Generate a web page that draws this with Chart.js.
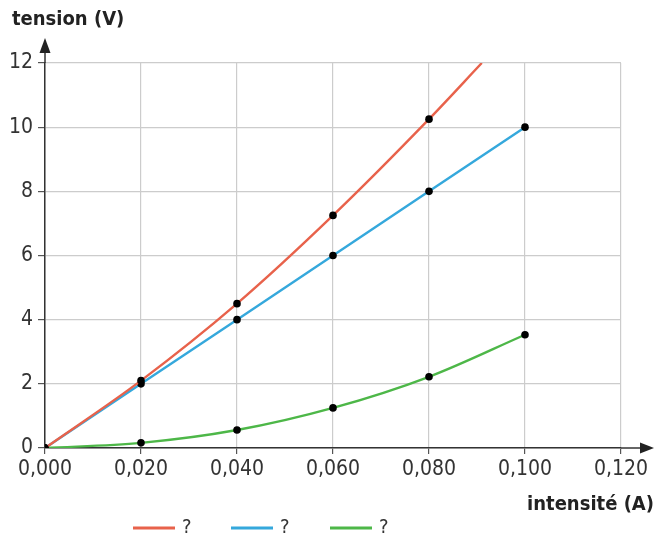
<!DOCTYPE html>
<html><head><meta charset="utf-8">
<script src="https://cdn.jsdelivr.net/npm/chart.js@4/dist/chart.umd.min.js"></script>
<style>html,body{margin:0;padding:0;background:#fff}#wrap{width:668px;height:542px}</style>
</head><body><div id="wrap"><canvas id="c" width="668" height="542"></canvas></div>
<script>
const intensity = [0, 0.02, 0.04, 0.06, 0.08, 0.1];
const redValues = [0, 2.1, 4.5, 7.25, 10.25];
const redEnd = [0.091, 12];
const blueValues = [0, 2, 4, 6, 8, 10];
const greenValues = [0, 0.16, 0.56, 1.25, 2.22, 3.53];
const legendLabels = ['?', '?', '?'];
const xTicks = [0, 0.02, 0.04, 0.06, 0.08, 0.1, 0.12];
const yTicks = [0, 2, 4, 6, 8, 10, 12];
const xTitle = 'intensité (A)';
const yTitle = 'tension (V)';

const FONT = "'Liberation Sans Narrow', 'DejaVu Sans Condensed', 'Roboto Condensed', sans-serif";
const COLORS = ['#e8624b', '#35a8dc', '#4db748'];

function pts(xs, ys) { return ys.map((y, i) => ({x: xs[i], y})); }
const redData = pts(intensity, redValues).concat([{x: redEnd[0], y: redEnd[1]}]);

const extras = {
  id: 'extras',
  afterDraw(chart) {
    const ctx = chart.ctx, a = chart.chartArea;
    ctx.save();
    ctx.strokeStyle = '#333'; ctx.fillStyle = '#222'; ctx.lineWidth = 1.5;
    // extend axes with arrows
    ctx.beginPath(); ctx.moveTo(a.left, a.top); ctx.lineTo(a.left, a.top - 14); ctx.stroke();
    ctx.beginPath(); ctx.moveTo(a.left, a.top - 25); ctx.lineTo(a.left - 5.5, a.top - 10); ctx.lineTo(a.left + 5.5, a.top - 10); ctx.closePath(); ctx.fill();
    ctx.beginPath(); ctx.moveTo(a.right, a.bottom); ctx.lineTo(a.right + 22, a.bottom); ctx.stroke();
    ctx.beginPath(); ctx.moveTo(a.right + 33, a.bottom); ctx.lineTo(a.right + 19, a.bottom - 5.5); ctx.lineTo(a.right + 19, a.bottom + 5.5); ctx.closePath(); ctx.fill();
    // titles
    ctx.fillStyle = '#222';
    ctx.font = "bold 20px " + FONT;
    ctx.textBaseline = 'middle';
    ctx.textAlign = 'left';
    ctx.fillText(yTitle, 12, 20);
    ctx.textAlign = 'right';
    ctx.fillText(xTitle, 654, 505);
    // legend
    ctx.font = "20px " + FONT;
    ctx.textAlign = 'left';
    const starts = [133, 231, 330];
    chart.data.datasets.forEach((ds, i) => {
      const x = starts[i], y = 528;
      ctx.strokeStyle = ds.borderColor; ctx.lineWidth = 3;
      ctx.beginPath(); ctx.moveTo(x, y); ctx.lineTo(x + 42, y); ctx.stroke();
      ctx.fillStyle = '#333';
      ctx.fillText(ds.label, x + 49, y);
    });
    ctx.restore();
  }
};

function mk(label, data, color, radii) {
  return {
    label, data, borderColor: color, backgroundColor: color, borderWidth: 2.4,
    showLine: true, tension: 0.4, cubicInterpolationMode: 'monotone',
    pointBackgroundColor: '#000', pointBorderWidth: 0, pointRadius: radii || 3.8, pointHoverRadius: 3.8
  };
}

new Chart(document.getElementById('c'), {
  type: 'scatter',
  data: { datasets: [
    mk(legendLabels[0], redData, COLORS[0], redData.map((p, i) => i < redValues.length ? 3.8 : 0)),
    mk(legendLabels[1], pts(intensity, blueValues), COLORS[1]),
    mk(legendLabels[2], pts(intensity, greenValues), COLORS[2])
  ]},
  options: {
    responsive: false, animation: false, devicePixelRatio: 1,
    layout: { padding: { top: 63, right: 47, left: 0, bottom: 0 } },
    plugins: { legend: { display: false }, tooltip: { enabled: false } },
    scales: {
      x: {
        type: 'linear', min: 0, max: 0.12,
        afterFit: s => { s.height = 94; },
        afterBuildTicks: s => { s.ticks = xTicks.map(v => ({value: v})); },
        ticks: { callback: v => v.toFixed(3).replace('.', ','), font: { family: FONT, size: 21 }, color: '#333', padding: 3, maxRotation: 0 },
        grid: { color: '#cccccc', lineWidth: 1.2, tickLength: 6, tickColor: '#555' },
        border: { color: '#333', width: 1.5 }
      },
      y: {
        min: 0, max: 12,
        afterFit: s => { s.width = 45; },
        afterBuildTicks: s => { s.ticks = yTicks.map(v => ({value: v})); },
        ticks: { font: { family: FONT, size: 21 }, color: '#333', padding: 5 },
        grid: { color: '#cccccc', lineWidth: 1.2, tickLength: 7, tickColor: '#555' },
        border: { color: '#333', width: 1.5 }
      }
    }
  },
  plugins: [extras]
});
</script></body></html>
